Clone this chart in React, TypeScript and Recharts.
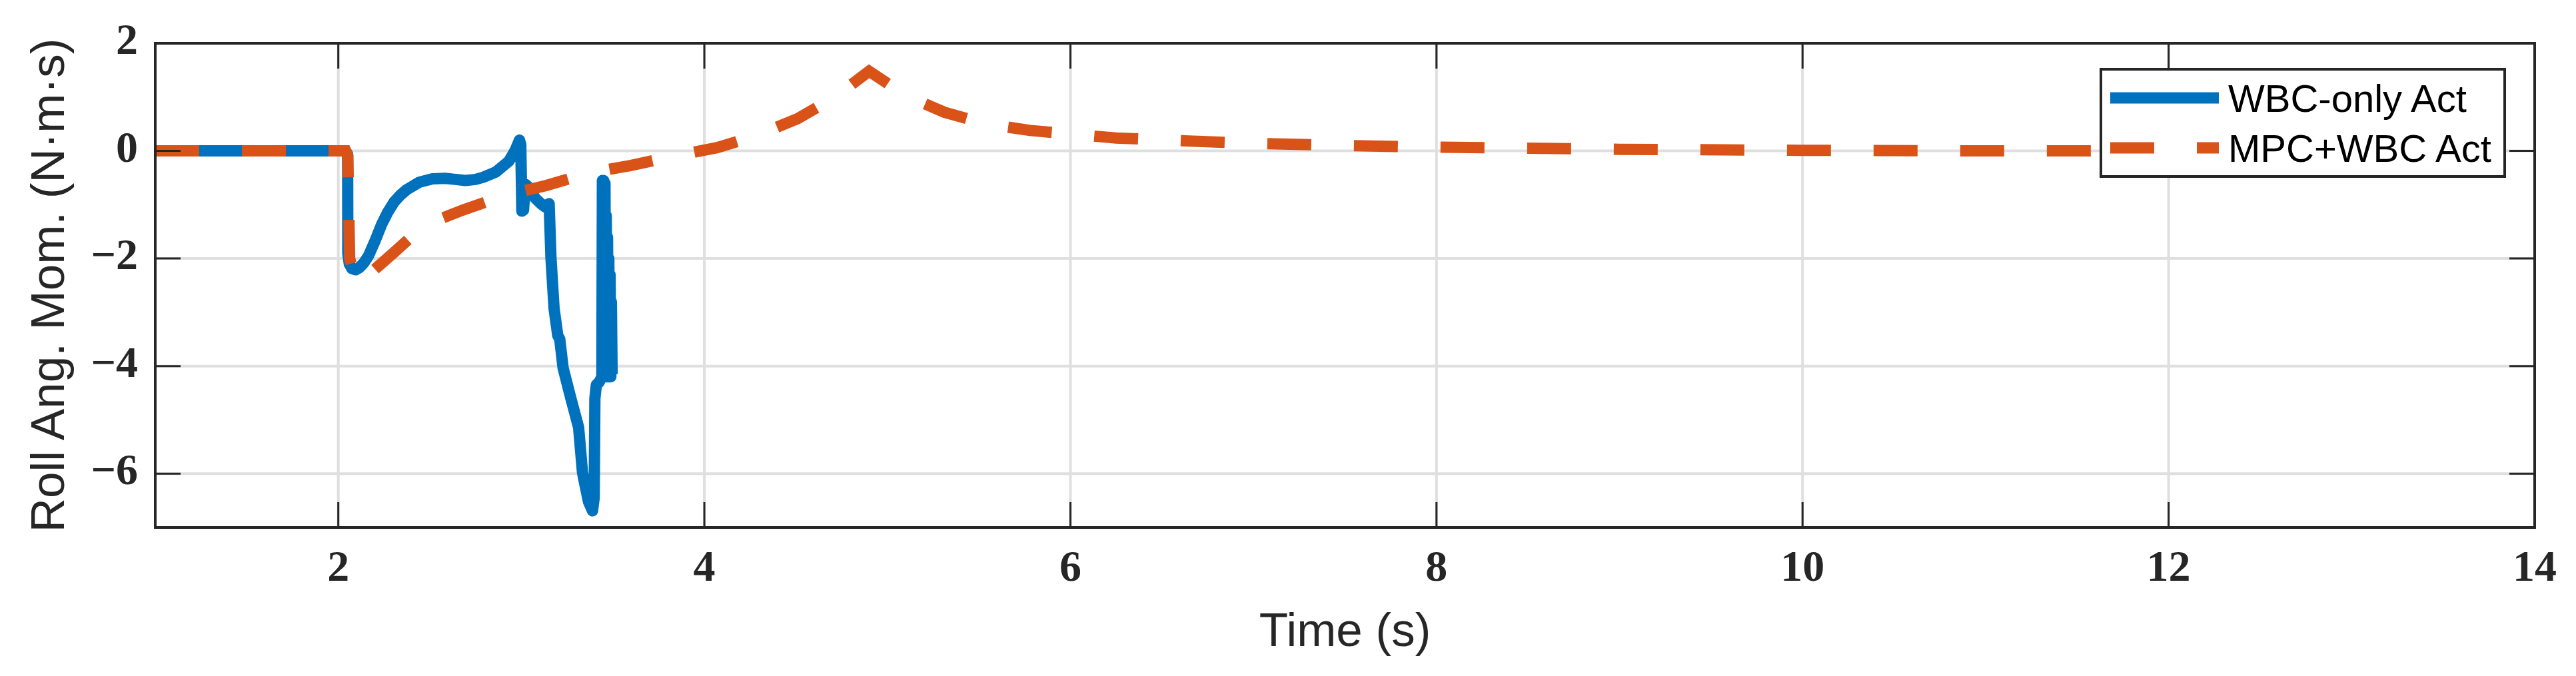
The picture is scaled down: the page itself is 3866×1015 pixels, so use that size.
import { CartesianGrid, Label, Line, LineChart, XAxis, YAxis } from "recharts";

// values
const xTicks = [2, 4, 6, 8, 10, 12, 14];
const yTicks = [-6, -4, -2, 0, 2];

const wbcTime = [
  1.0, 2.04, 2.051, 2.052, 2.06, 2.075, 2.095, 2.115, 2.14, 2.165, 2.2, 2.235, 2.27, 2.305, 2.34, 2.374,
  2.444, 2.514, 2.583, 2.64, 2.695, 2.75, 2.792, 2.862, 2.932, 2.965, 2.99, 2.997, 3.003, 3.012, 3.022,
  3.035, 3.076, 3.11, 3.13, 3.152, 3.162, 3.179, 3.199, 3.21, 3.228, 3.27, 3.313, 3.334, 3.343, 3.367,
  3.389, 3.398, 3.402, 3.41, 3.425, 3.44, 3.443, 3.447, 3.45, 3.454, 3.457, 3.461, 3.464, 3.468, 3.471,
  3.475, 3.478, 3.482, 3.485, 3.489, 3.492, 3.496,
];
const wbcMom = [
  0, 0, -0.06, -1.9, -2.1, -2.19, -2.21, -2.17, -2.08, -1.95, -1.68, -1.38, -1.14, -0.95, -0.82, -0.72,
  -0.58, -0.52, -0.51, -0.53, -0.55, -0.53, -0.49, -0.39, -0.19, 0.0, 0.2, 0.12, -1.12, -1.1, -0.62,
  -0.66, -0.88, -0.99, -1.04, -0.98, -1.99, -2.93, -3.43, -3.5, -4.03, -4.59, -5.14, -5.97, -6.13, -6.52,
  -6.69, -6.45, -4.6, -4.35, -4.3, -4.2, -0.55, -4.2, -0.55, -4.2, -0.6, -4.2, -1.2, -4.2, -1.6,
  -4.2, -2.0, -4.2, -2.3, -4.2, -2.8, -4.15,
];

const mpcTime = [
  1.0, 2.04, 2.052, 2.062, 2.1, 2.2, 2.3, 2.47, 2.68, 2.91, 3.14, 3.37, 3.6, 3.83, 4.07, 4.29, 4.51,
  4.71, 4.9, 5.1, 5.31, 5.54, 5.78, 6.01, 6.25, 6.6, 7.0, 7.5, 8.0, 9.0, 10.0, 11.0, 12.0, 13.5,
];
const mpcMom = [
  0, 0, -0.1, -2.0, -2.45, -2.2, -1.9, -1.38, -1.1, -0.83, -0.64, -0.41, -0.27, -0.1, 0.06, 0.29, 0.6,
  0.99, 1.48, 1.03, 0.72, 0.5, 0.38, 0.31, 0.24, 0.19, 0.14, 0.1, 0.07, 0.03, 0.01, 0.0, 0.0, 0.0,
];

const wbcData = wbcTime.map((t, i) => ({ t, y: wbcMom[i] }));
const mpcData = mpcTime.map((t, i) => ({ t, y: mpcMom[i] }));

const W = 3866;
const H = 1015;
const PL = 233;
const PR = 3804;
const PT = 65;
const PB = 792;
const TICK = 38;
const AX = "#262626";
const BLUE = "#0072BD";
const ORANGE = "#D95319";
const SERIF = "'Liberation Serif', 'Times New Roman', serif";
const SANS = "'Liberation Sans', Arial, Helvetica, sans-serif";

const fmt = (v: number) => (v < 0 ? "\u2212" + Math.abs(v) : String(v));

function BottomTick(props: any) {
  const { x, payload } = props;
  return (
    <g>
      <line x1={x} x2={x} y1={PB} y2={PB - TICK} stroke={AX} strokeWidth={3} />
      <text x={x} y={PB + 80} textAnchor="middle" fontFamily={SERIF} fontWeight="bold" fontSize={66} fill={AX}>
        {fmt(payload.value)}
      </text>
    </g>
  );
}

function TopTick(props: any) {
  const { x } = props;
  return <line x1={x} x2={x} y1={PT} y2={PT + TICK} stroke={AX} strokeWidth={3} />;
}

function LeftTick(props: any) {
  const { y, payload } = props;
  return (
    <g>
      <line x1={PL} x2={PL + TICK} y1={y} y2={y} stroke={AX} strokeWidth={3} />
      <text x={PL - 26} y={y + 16} textAnchor="end" fontFamily={SERIF} fontWeight="bold" fontSize={66} fill={AX}>
        {fmt(payload.value)}
      </text>
    </g>
  );
}

function RightTick(props: any) {
  const { y } = props;
  return <line x1={PR} x2={PR - TICK} y1={y} y2={y} stroke={AX} strokeWidth={3} />;
}

const axisLine = { stroke: AX, strokeWidth: 4, strokeLinecap: "square" as const };

function ChartLegend() {
  return (
    <div
      style={{
        position: "absolute",
        left: 3151,
        top: 102,
        width: 610,
        height: 165,
        boxSizing: "border-box",
        border: `4px solid ${AX}`,
        background: "#fff",
      }}
    >
      <svg width={602} height={157} style={{ position: "absolute", left: 0, top: 0 }}>
        <line x1={12} x2={175} y1={41} y2={41} stroke={BLUE} strokeWidth={17} />
        <line x1={12} x2={175} y1={116} y2={116} stroke={ORANGE} strokeWidth={17} strokeDasharray="66 64" />
        <text x={189} y={62} fontFamily={SANS} fontSize={58} fill="#000">
          WBC-only Act
        </text>
        <text x={189} y={137} fontFamily={SANS} fontSize={58} fill="#000">
          MPC+WBC Act
        </text>
      </svg>
    </div>
  );
}

export default function App() {
  return (
    <div style={{ position: "absolute", left: 0, top: 0, width: W, height: H, background: "#fff" }}>
      <LineChart width={W} height={H} margin={{ top: 0, right: 0, bottom: 0, left: 0 }}>
        <CartesianGrid stroke="#dfdfdf" strokeWidth={4} fill="none" />
        <XAxis
          dataKey="t"
          type="number"
          domain={[1, 14]}
          ticks={xTicks}
          interval={0}
          allowDataOverflow
          height={H - PB}
          tickLine={false}
          axisLine={axisLine}
          tick={BottomTick}
        >
          <Label
            content={() => (
              <text x={(PL + PR) / 2} y={970} textAnchor="middle" fontFamily={SANS} fontSize={71} fill={AX}>
                Time (s)
              </text>
            )}
          />
        </XAxis>
        <XAxis
          xAxisId="top"
          orientation="top"
          dataKey="t"
          type="number"
          domain={[1, 14]}
          ticks={xTicks}
          interval={0}
          allowDataOverflow
          height={PT}
          tickLine={false}
          axisLine={axisLine}
          tick={TopTick}
        />
        <YAxis
          type="number"
          domain={[-7, 2]}
          ticks={yTicks}
          interval={0}
          allowDataOverflow
          width={PL}
          tickLine={false}
          axisLine={axisLine}
          tick={LeftTick}
        >
          <Label
            content={() => (
              <text
                x={96}
                y={(PT + PB) / 2}
                transform={`rotate(-90 96 ${(PT + PB) / 2})`}
                textAnchor="middle"
                fontFamily={SANS}
                fontSize={71}
                fill={AX}
              >
                Roll Ang. Mom. (N·m·s)
              </text>
            )}
          />
        </YAxis>
        <YAxis
          yAxisId="right"
          orientation="right"
          type="number"
          domain={[-7, 2]}
          ticks={yTicks}
          interval={0}
          allowDataOverflow
          width={W - PR}
          tickLine={false}
          axisLine={axisLine}
          tick={RightTick}
        />
        <Line
          data={wbcData}
          dataKey="y"
          type="linear"
          stroke={BLUE}
          strokeWidth={17}
          strokeLinejoin="round"
          dot={false}
          activeDot={false}
          isAnimationActive={false}
        />
        <Line
          data={mpcData}
          dataKey="y"
          type="linear"
          stroke={ORANGE}
          strokeWidth={17}
          strokeDasharray="66 64"
          dot={false}
          activeDot={false}
          isAnimationActive={false}
        />
      </LineChart>
      <ChartLegend />
    </div>
  );
}
